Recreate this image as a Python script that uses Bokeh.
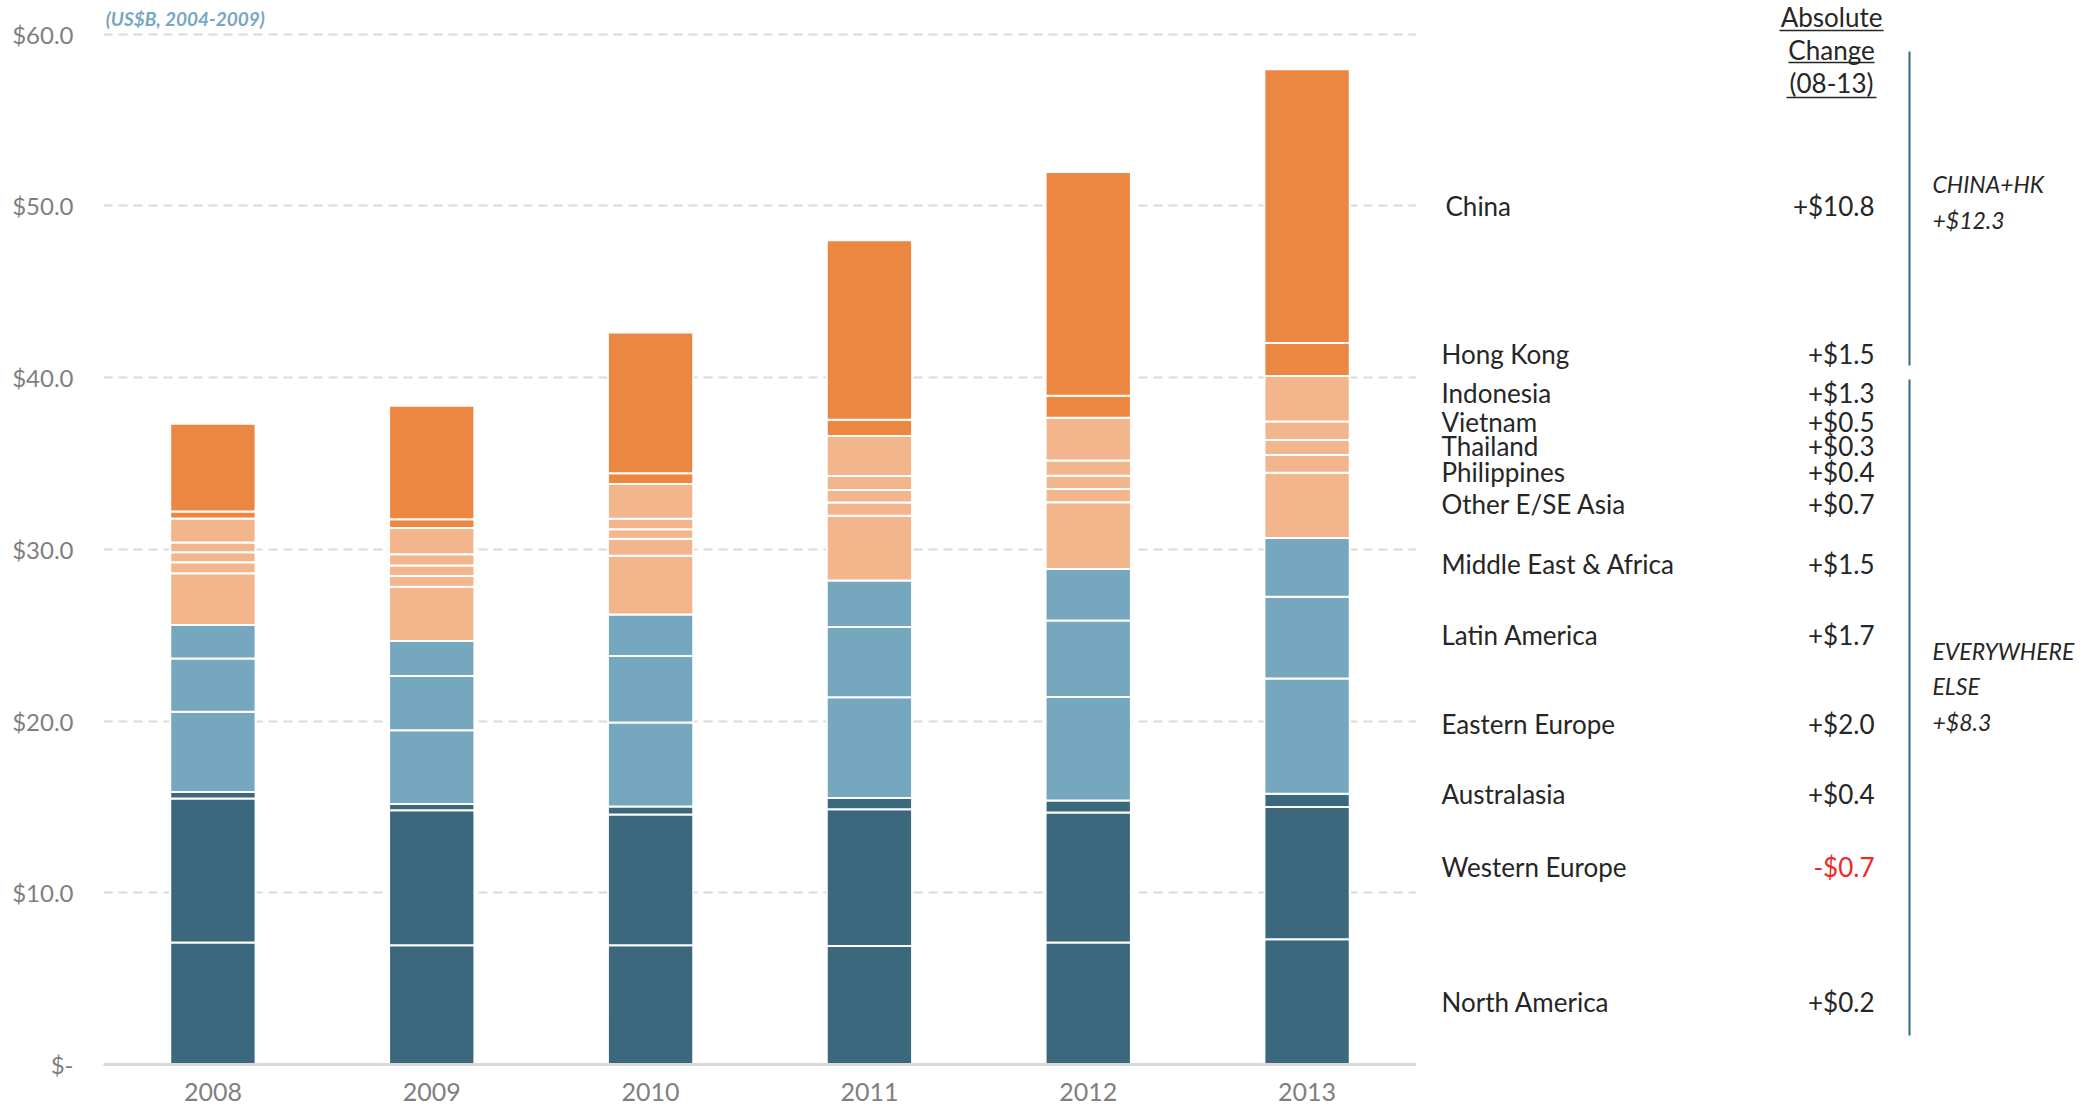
from bokeh.plotting import figure
from bokeh.layouts import row
from bokeh.models import Range1d, FactorRange, FixedTicker, ColumnDataSource, Label
from bokeh.core.properties import value
from bokeh.embed import file_html
from bokeh.resources import INLINE

# ---------------- data ----------------
years = ["2008", "2009", "2010", "2011", "2012", "2013"]

# stacked from the bottom up (US$ billions)
north_america      = [7.10, 6.95, 6.95, 6.90, 7.10, 7.30]
western_europe     = [8.39, 7.86, 7.61, 7.97, 7.58, 7.69]
australasia        = [0.38, 0.36, 0.47, 0.65, 0.70, 0.78]
eastern_europe     = [4.67, 4.29, 4.89, 5.87, 6.02, 6.71]
latin_america      = [3.10, 3.17, 3.87, 4.09, 4.45, 4.76]
middle_east_africa = [1.95, 2.03, 2.42, 2.71, 3.01, 3.42]
other_ese_asia     = [3.01, 3.16, 3.41, 3.77, 3.88, 3.80]
philippines        = [0.65, 0.62, 1.00, 0.77, 0.78, 1.03]
thailand           = [0.58, 0.62, 0.55, 0.73, 0.77, 0.87]
vietnam            = [0.57, 0.66, 0.61, 0.81, 0.89, 1.09]
indonesia          = [1.39, 1.52, 2.02, 2.33, 2.48, 2.65]
hong_kong          = [0.41, 0.51, 0.63, 0.94, 1.29, 1.91]
china              = [5.11, 6.61, 8.20, 10.46, 13.02, 15.94]

# labels in the right-hand table (top to bottom)
region_names = ["China", "Hong Kong", "Indonesia", "Vietnam", "Thailand", "Philippines",
                "Other E/SE Asia", "Middle East & Africa", "Latin America", "Eastern Europe",
                "Australasia", "Western Europe", "North America"]
change_labels = ["+$10.8", "+$1.5", "+$1.3", "+$0.5", "+$0.3", "+$0.4", "+$0.7",
                 "+$1.5", "+$1.7", "+$2.0", "+$0.4", "-$0.7", "+$0.2"]
y_ticks = [0, 10, 20, 30, 40, 50, 60]
y_tick_labels = ["$-", "$10.0", "$20.0", "$30.0", "$40.0", "$50.0", "$60.0"]
subtitle = "(US$B, 2004-2009)"

# ---------------- styles ----------------
ORANGE = "#EC8742"
LIGHT_ORANGE = "#F3B68C"
LIGHT_BLUE = "#75A7BE"
DARK_BLUE = "#3B687D"
FONT = "Lato"
TEXT = "#262626"

keys = ["north_america", "western_europe", "australasia", "eastern_europe", "latin_america",
        "middle_east_africa", "other_ese_asia", "philippines", "thailand", "vietnam",
        "indonesia", "hong_kong", "china"]
colors = [DARK_BLUE] * 3 + [LIGHT_BLUE] * 3 + [LIGHT_ORANGE] * 5 + [ORANGE] * 2

source = ColumnDataSource(dict(
    year=years,
    north_america=north_america, western_europe=western_europe, australasia=australasia,
    eastern_europe=eastern_europe, latin_america=latin_america,
    middle_east_africa=middle_east_africa, other_ese_asia=other_ese_asia,
    philippines=philippines, thailand=thailand, vietnam=vietnam, indonesia=indonesia,
    hong_kong=hong_kong, china=china))

H = 1104
FRAME_H = 1064
BOTTOM = H - FRAME_H
MAIN_W = 1416
Y_TOP = 61.96

# ---------------- main chart ----------------
p = figure(width=MAIN_W, height=H, x_range=FactorRange(*years), y_range=Range1d(0, Y_TOP),
           toolbar_location=None, output_backend="svg",
           min_border_left=103, min_border_right=0, min_border_top=0, min_border_bottom=BOTTOM)
p.outline_line_color = None

p.vbar_stack(keys, x="year", width=0.39, color=colors, line_color="white",
             line_width=2, source=source)

p.yaxis.ticker = FixedTicker(ticks=y_ticks)
p.yaxis.major_label_overrides = {t: s for t, s in zip(y_ticks, y_tick_labels)}
p.yaxis.axis_line_color = None
p.yaxis.major_tick_line_color = None
p.yaxis.minor_tick_line_color = None
p.yaxis.major_label_standoff = 24
p.yaxis.major_label_text_font = FONT
p.yaxis.major_label_text_font_size = "24px"
p.yaxis.major_label_text_color = "#7F7F7F"

p.xaxis.axis_line_color = "#D9D9D9"
p.xaxis.axis_line_width = 3
p.xaxis.major_tick_line_color = None
p.xaxis.minor_tick_line_color = None
p.xaxis.major_label_standoff = 12
p.xaxis.major_label_text_font = FONT
p.xaxis.major_label_text_font_size = "25px"
p.xaxis.major_label_text_color = "#7F7F7F"

p.xgrid.grid_line_color = None
p.ygrid.ticker = FixedTicker(ticks=y_ticks[1:])
p.ygrid.grid_line_color = "#D9D9D9"
p.ygrid.grid_line_width = 2
p.ygrid.grid_line_dash = "9 6"

# subtitle in the top-left corner of the plot area
p.add_layout(Label(x=0.01, y=Y_TOP - 1.05, text=subtitle, text_font=FONT,
                   text_font_size="19px", text_font_style="bold italic",
                   text_align="left", text_baseline="alphabetic", text_color="#77A8C0"))

# ---------------- right-hand table ----------------
# pixel-based coordinates (y measured from the top); frame height is aligned with the chart
SW = 2084 - MAIN_W
s = figure(width=SW, height=H, x_range=Range1d(0, SW), y_range=Range1d(FRAME_H, 0),
           toolbar_location=None, output_backend="svg",
           x_axis_location=None, y_axis_location=None,
           min_border_left=0, min_border_right=0, min_border_top=0, min_border_bottom=BOTTOM)
s.grid.grid_line_color = None
s.outline_line_color = None

label_x = [29] + [25] * 12
label_y = [205, 353, 392, 421, 445, 471, 503, 563, 634, 723, 793, 866, 1001]
value_colors = [TEXT if not c.startswith("-") else "#F02828" for c in change_labels]

s.text(x=label_x, y=label_y, text=region_names, text_font=value(FONT),
       text_font_size="26px", text_baseline="middle", text_align="left", text_color=TEXT)
s.text(x=[458] * len(change_labels), y=label_y, text=change_labels, text_font=value(FONT),
       text_font_size="26px", text_baseline="middle", text_align="right", text_color=value_colors)

# header
header = ["Absolute", "Change", "(08-13)"]
s.text(x=[415] * 3, y=[16, 49, 82], text=header, text_font=value(FONT), text_font_size="26px",
       text_baseline="middle", text_align="center", text_color=TEXT)
s.segment(x0=[363, 372, 370], y0=[30, 62, 97], x1=[467, 458, 460], y1=[30, 62, 97],
          line_color=TEXT, line_width=1.5)

# brackets
s.segment(x0=[493, 493], y0=[51, 379], x1=[493, 493], y1=[365, 1035],
          line_color=DARK_BLUE, line_width=2)

group_text = ["CHINA+HK", "+$12.3", "EVERYWHERE", "ELSE", "+$8.3"]
group_y = [183, 219, 650, 685, 721]
s.text(x=[516] * 5, y=group_y, text=group_text, text_font=value(FONT), text_font_size="23px",
       text_font_style="italic", text_baseline="middle", text_align="left", text_color=TEXT)

layout = row(p, s)
open("out.html", "w").write(file_html(layout, INLINE))
